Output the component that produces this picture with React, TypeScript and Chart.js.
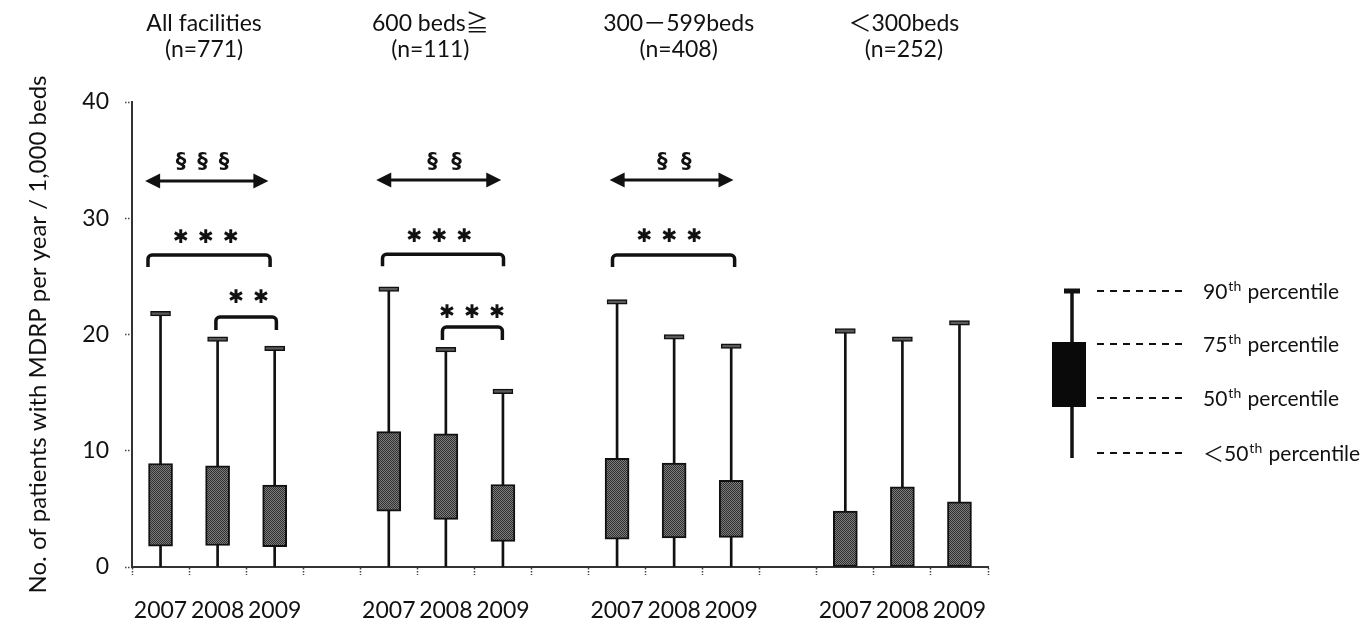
import React, { useEffect, useRef } from "react";
import { Chart, registerables } from "chart.js";
Chart.register(...registerables);

// ---------- data ----------
const years = ["2007", "2008", "2009"];
const groupTitles = ["All facilities", "600 beds≧", "300－599beds", "＜300beds"];
const groupCounts = ["(n=771)", "(n=111)", "(n=408)", "(n=252)"];
// box bottom (50th percentile), box top (75th), whisker top (90th)
const p50 = [[1.8, 1.85, 1.75], [4.8, 4.1, 2.2], [2.4, 2.5, 2.55], [0, 0, 0]];
const p75 = [[8.9, 8.7, 7.05], [11.65, 11.45, 7.1], [9.35, 8.95, 7.45], [4.8, 6.9, 5.6]];
const p90 = [[21.8, 19.6, 18.8], [23.9, 18.7, 15.1], [22.8, 19.8, 19.0], [20.3, 19.6, 21.0]];
const yMin = 0;
const yMax = 40;
const yStep = 10;
const yTitle = "No. of patients with MDRP per year / 1,000 beds";
const legendRows = [
  ["90", "th", " percentile"],
  ["75", "th", " percentile"],
  ["50", "th", " percentile"],
  ["＜50", "th", " percentile"],
];
// significance marks (category index, value)
const trendArrows = [
  { from: -0.27, to: 1.89, y: 33.2, mark: "§", count: 3, cx: 0.737, ty: 34.8, gap: 21.5 },
  { from: 3.78, to: 5.97, y: 33.3, mark: "§", count: 2, cx: 4.974, ty: 34.8, gap: 24 },
  { from: 7.87, to: 10.04, y: 33.3, mark: "§", count: 2, cx: 9.0, ty: 34.8, gap: 24 },
];
const brackets = [
  { from: -0.22, to: 1.92, y: 26.84, drop: 12, cx: 0.798, ty: 28.3, count: 3 },
  { from: 0.97, to: 2.03, y: 21.5, drop: 13, cx: 1.544, ty: 23.1, count: 2 },
  { from: 3.89, to: 6.01, y: 26.9, drop: 12, cx: 4.886, ty: 28.4, count: 3 },
  { from: 4.94, to: 5.99, y: 20.65, drop: 13, cx: 5.46, ty: 21.85, count: 3 },
  { from: 7.92, to: 10.06, y: 26.84, drop: 12, cx: 8.92, ty: 28.4, count: 3 },
];

const FONT = "Lato, 'Noto Sans CJK JP', sans-serif";
const titleCenters = [0.763, 4.728, 9.079, 13.026];

export default function App() {
  const ref = useRef<HTMLCanvasElement>(null);
  useEffect(() => {
    const canvas = ref.current!;
    const ctx = canvas.getContext("2d")!;
    const pc = document.createElement("canvas");
    pc.width = 2;
    pc.height = 2;
    const pctx = pc.getContext("2d")!;
    pctx.fillStyle = "#7c7c7c";
    pctx.fillRect(0, 0, 2, 2);
    pctx.fillStyle = "#303030";
    pctx.fillRect(0, 0, 1, 1);
    pctx.fillRect(1, 1, 1, 1);
    const pattern = ctx.createPattern(pc, "repeat")!;

    const labels: string[] = [];
    const box: any[] = [];
    const whisk: any[] = [];
    const cap: any[] = [];
    groupTitles.forEach((_, g) => {
      years.forEach((yr, i) => {
        labels.push(yr);
        box.push([p50[g][i], p75[g][i]]);
        whisk.push([0, p90[g][i]]);
        cap.push([p90[g][i] - 0.2, p90[g][i] + 0.2]);
      });
      if (g < groupTitles.length - 1) {
        labels.push("");
        box.push(null);
        whisk.push(null);
        cap.push(null);
      }
    });

    const overlay = {
      id: "overlay",
      afterDraw(chart: any) {
        const c = chart.ctx as CanvasRenderingContext2D;
        const x = chart.scales.x;
        const y = chart.scales.y;
        c.save();
        c.fillStyle = "#111";
        c.strokeStyle = "#111";
        // group titles
        c.textAlign = "center";
        c.textBaseline = "alphabetic";
        c.font = `23px ${FONT}`;
        groupTitles.forEach((t, g) => {
          const cx = x.getPixelForValue(titleCenters[g]);
          c.fillText(t, cx, 31);
          c.fillText(groupCounts[g], cx, 57);
        });
        // arrows
        trendArrows.forEach((a) => {
          const x0 = x.getPixelForValue(a.from);
          const x1 = x.getPixelForValue(a.to);
          const yy = y.getPixelForValue(a.y);
          c.lineWidth = 3;
          c.beginPath();
          c.moveTo(x0 + 10, yy);
          c.lineTo(x1 - 10, yy);
          c.stroke();
          c.beginPath();
          c.moveTo(x0, yy);
          c.lineTo(x0 + 15, yy - 7.5);
          c.lineTo(x0 + 15, yy + 7.5);
          c.closePath();
          c.fill();
          c.beginPath();
          c.moveTo(x1, yy);
          c.lineTo(x1 - 15, yy - 7.5);
          c.lineTo(x1 - 15, yy + 7.5);
          c.closePath();
          c.fill();
          c.font = `bold 21px 'DejaVu Sans', sans-serif`;
          c.textAlign = "center";
          c.textBaseline = "middle";
          const cx = x.getPixelForValue(a.cx);
          const ty = y.getPixelForValue(a.ty);
          for (let k = 0; k < a.count; k++) {
            c.fillText(a.mark, cx + (k - (a.count - 1) / 2) * a.gap, ty);
          }
        });
        // brackets
        brackets.forEach((b) => {
          const x0 = x.getPixelForValue(b.from);
          const x1 = x.getPixelForValue(b.to);
          const yy = y.getPixelForValue(b.y);
          c.lineWidth = 3.5;
          c.lineJoin = "round";
          c.beginPath();
          c.moveTo(x0, yy + b.drop);
          c.arcTo(x0, yy, x0 + 5, yy, 4);
          c.arcTo(x1, yy, x1, yy + 5, 4);
          c.lineTo(x1, yy + b.drop);
          c.stroke();
          c.font = `19px 'DejaVu Sans', sans-serif`;
          c.textAlign = "center";
          c.textBaseline = "middle";
          const cx = x.getPixelForValue(b.cx);
          const ty = y.getPixelForValue(b.ty);
          for (let k = 0; k < b.count; k++) {
            c.fillText("✱", cx + (k - (b.count - 1) / 2) * 25, ty);
          }
        });
        // legend
        const lx = 1072;
        c.lineWidth = 3.5;
        c.beginPath();
        c.moveTo(lx, 291);
        c.lineTo(lx, 458);
        c.stroke();
        c.fillRect(lx - 8, 288.5, 16, 5);
        c.fillStyle = "#0a0a0a";
        c.fillRect(1052, 342, 34, 65);
        c.fillStyle = "#111";
        const ly = [291, 344, 398, 453];
        c.lineWidth = 2;
        c.setLineDash([7, 6]);
        ly.forEach((yy) => {
          c.beginPath();
          c.moveTo(1097, yy);
          c.lineTo(1188, yy);
          c.stroke();
        });
        c.setLineDash([]);
        c.textAlign = "left";
        c.textBaseline = "alphabetic";
        legendRows.forEach(([pre, sup, post], i) => {
          let xx = 1203;
          const base = ly[i] + 8;
          c.font = `21px ${FONT}`;
          c.fillText(pre, xx, base);
          xx += c.measureText(pre).width;
          c.font = `14px ${FONT}`;
          c.fillText(sup, xx + 1, base - 8);
          xx += c.measureText(sup).width + 2;
          c.font = `21px ${FONT}`;
          c.fillText(post, xx, base);
        });
        c.restore();
      },
    };

    const chart = new Chart(canvas, {
      type: "bar",
      data: {
        labels,
        datasets: [
          {
            label: "box",
            data: box,
            backgroundColor: pattern as any,
            borderColor: "#111",
            borderWidth: 2,
            borderSkipped: false,
            barThickness: 24,
            grouped: false,
            order: 0,
          } as any,
          {
            label: "cap",
            data: cap,
            backgroundColor: "#5a5a5a",
            borderColor: "#111",
            borderWidth: 1.5,
            borderSkipped: false,
            barThickness: 20,
            grouped: false,
            order: 1,
          } as any,
          {
            label: "whisker",
            data: whisk,
            backgroundColor: "#111",
            borderWidth: 0,
            barThickness: 2,
            grouped: false,
            order: 2,
          } as any,
        ],
      },
      options: {
        animation: false,
        responsive: false,
        layout: { padding: { top: 102, right: 384, left: 0, bottom: 0 } },
        plugins: { legend: { display: false }, tooltip: { enabled: false }, title: { display: false } },
        scales: {
          x: {
            offset: true,
            grid: {
              display: true,
              offset: true,
              drawOnChartArea: false,
              drawTicks: true,
              tickLength: 8,
              tickColor: "#444",
              tickWidth: 1.5,
              tickBorderDash: [1.5, 1.5],
            } as any,
            border: { display: true, color: "#333", width: 2, dash: [2, 1] },
            ticks: {
              autoSkip: false,
              maxRotation: 0,
              minRotation: 0,
              padding: 22,
              color: "#111",
              font: { family: FONT, size: 23 },
            },
            afterFit(scale: any) {
              scale.height = 58;
            },
          },
          y: {
            min: yMin,
            max: yMax,
            grid: {
              display: true,
              drawOnChartArea: false,
              drawTicks: true,
              tickLength: 7,
              tickColor: "#444",
              tickWidth: 1.5,
              tickBorderDash: [1.5, 1.5],
            } as any,
            border: { display: true, color: "#333", width: 2, dash: [2, 1] },
            ticks: {
              stepSize: yStep,
              padding: 16,
              color: "#111",
              font: { family: FONT, size: 23 },
            },
            title: {
              display: true,
              text: yTitle,
              color: "#111",
              font: { family: FONT, size: 24 },
              padding: { top: 24, bottom: 0 },
            },
            afterFit(scale: any) {
              scale.width = 132;
            },
          },
        },
      },
      plugins: [overlay],
    });
    return () => chart.destroy();
  }, []);

  return (
    <div style={{ position: "absolute", left: 0, top: 0, width: 1372, height: 625, background: "#fff" }}>
      <canvas ref={ref} width={1372} height={625} style={{ display: "block" }} />
    </div>
  );
}
